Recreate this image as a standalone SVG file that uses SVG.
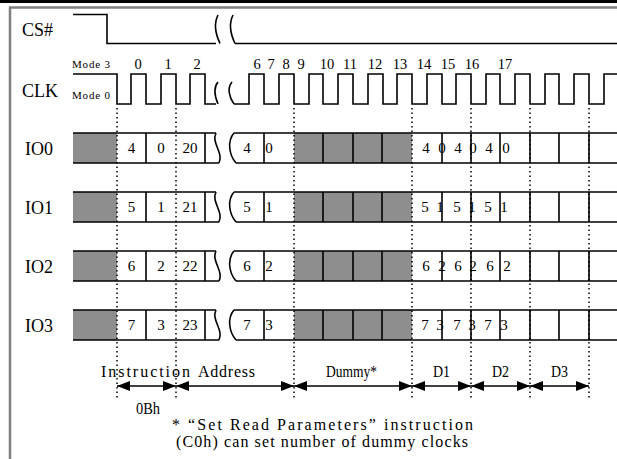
<svg xmlns="http://www.w3.org/2000/svg" width="617" height="459" viewBox="0 0 617 459">
<defs>
<style>
.w{fill:none;stroke:#000;stroke-width:1.6}
.g{fill:#8e8e8e;stroke:none}
.dot{stroke:#000;stroke-width:1.5;stroke-dasharray:1.5 3;fill:none}
.lbl{font-family:"Liberation Serif",serif;font-size:18px;fill:#000}
.num{font-family:"Liberation Serif",serif;font-size:14.5px;fill:#000;text-anchor:middle}
.cell{font-family:"Liberation Serif",serif;font-size:15px;fill:#000;text-anchor:middle}
.mono{font-family:"Liberation Serif",serif;font-size:16px;fill:#000}
.mode{font-family:"Liberation Serif",serif;font-size:11px;fill:#000}
.arr{stroke:#000;stroke-width:1.6;fill:none;marker-start:url(#ah);marker-end:url(#ah)}
</style>
<marker id="ah" viewBox="0 0 13 10" refX="13" refY="5" markerWidth="13" markerHeight="10" markerUnits="userSpaceOnUse" orient="auto-start-reverse">
<path d="M0,0 L13,5 L0,10 Z" fill="#000"/>
</marker>
</defs>
<rect width="617" height="459" fill="#fff"/>
<g id="frame">
<rect x="0" y="0" width="617" height="3" fill="#000"/>
<line x1="9" y1="7.5" x2="617" y2="7.5" stroke="#7f7f7f" stroke-width="2.5"/>
<line x1="10" y1="7" x2="10" y2="459" stroke="#7f7f7f" stroke-width="2.5"/>
</g>
<g id="cs">
<text class="lbl" x="22" y="36">CS#</text>
<path class="w" d="M73,14.5 H107 V43.5 H216"/>
<path class="w" d="M218,15 C213,25 216,35 220,43.5"/>
<path class="w" d="M233,15 C228,25 231,35 235,43.5"/>
<path class="w" d="M235,43.5 H617"/>
</g>
<g id="clk">
<text class="lbl" x="22" y="97">CLK</text>
<text class="mode" x="72" y="68" textLength="38" lengthAdjust="spacing">Mode 3</text>
<text class="mode" x="72" y="99" textLength="38" lengthAdjust="spacing">Mode 0</text>
<path class="w" d="M73,74 H117 V104 H131 V74 H146 V104 H161 V74 H176 V104 H190 V74 H205 V104 H216"/>
<path class="w" d="M218,82 C213,88 215,97 218,104"/>
<path class="w" d="M232,82 C227,88 229,97 234,104"/>
<path class="w" d="M234,104 H249 V74 H264 V104 H279 V74 H294 V104 H309 V74 H323 V104 H338 V74 H353 V104 H368 V74 H383 V104 H397 V74 H412 V104 H427 V74 H442 V104 H456 V74 H471 V104 H486 V74 H500 V104 H515 V74 H530 V104 H545 V74 H559 V104 H574 V74 H589 V104 H604 V74 H617"/>
<text class="num" x="138" y="69">0</text>
<text class="num" x="168" y="69">1</text>
<text class="num" x="197" y="69">2</text>
<text class="num" x="257" y="69">6</text>
<text class="num" x="271" y="69">7</text>
<text class="num" x="286" y="69">8</text>
<text class="num" x="301" y="69">9</text>
<text class="num" x="327" y="69">10</text>
<text class="num" x="350" y="69">11</text>
<text class="num" x="375" y="69">12</text>
<text class="num" x="400" y="69">13</text>
<text class="num" x="424" y="69">14</text>
<text class="num" x="448" y="69">15</text>
<text class="num" x="472" y="69">16</text>
<text class="num" x="505" y="69">17</text>
</g>
<g id="io0">
<text class="lbl" x="25" y="155">IO0</text>
<rect class="g" x="73" y="133" width="44" height="30"/>
<rect class="g" x="294" y="133" width="118" height="30"/>
<path class="w" d="M73,133 H216 M73,163 H219 M234,133 H617 M236,163 H617"/>
<path class="w" d="M216,133 C211,143 224,153 219,163 M234,133 C227,141 229,155 236,163"/>
<path class="w" d="M146,133 V163 M205,133 V163 M264,133 V163 M323,133 V163 M353,133 V163 M382,133 V163 M442,133 V163 M471,133 V163 M500,133 V163 M530,133 V163 M559,133 V163 M589,133 V163"/>
<text class="cell" x="131.5" y="153">4</text><text class="cell" x="161" y="153">0</text><text class="cell" x="190" y="153">20</text>
<text class="cell" x="247" y="153">4</text><text class="cell" x="269" y="153">0</text>
<text class="cell" x="426" y="153">4</text><text class="cell" x="442" y="153">0</text><text class="cell" x="458" y="153">4</text><text class="cell" x="473" y="153">0</text><text class="cell" x="489" y="153">4</text><text class="cell" x="506" y="153">0</text>
</g>
<g id="io1">
<text class="lbl" x="25" y="214">IO1</text>
<rect class="g" x="73" y="192" width="44" height="30"/>
<rect class="g" x="294" y="192" width="118" height="30"/>
<path class="w" d="M73,192 H216 M73,222 H219 M234,192 H617 M236,222 H617"/>
<path class="w" d="M216,192 C211,202 224,212 219,222 M234,192 C227,200 229,214 236,222"/>
<path class="w" d="M146,192 V222 M205,192 V222 M264,192 V222 M323,192 V222 M353,192 V222 M382,192 V222 M442,192 V222 M471,192 V222 M500,192 V222 M530,192 V222 M559,192 V222 M589,192 V222"/>
<text class="cell" x="131.5" y="212">5</text><text class="cell" x="161" y="212">1</text><text class="cell" x="190" y="212">21</text>
<text class="cell" x="247" y="212">5</text><text class="cell" x="269" y="212">1</text>
<text class="cell" x="425" y="212">5</text><text class="cell" x="440" y="212">1</text><text class="cell" x="457" y="212">5</text><text class="cell" x="472" y="212">1</text><text class="cell" x="488" y="212">5</text><text class="cell" x="504" y="212">1</text>
</g>
<g id="io2">
<text class="lbl" x="25" y="273">IO2</text>
<rect class="g" x="73" y="251" width="44" height="30"/>
<rect class="g" x="294" y="251" width="118" height="30"/>
<path class="w" d="M73,251 H216 M73,281 H219 M234,251 H617 M236,281 H617"/>
<path class="w" d="M216,251 C211,261 224,271 219,281 M234,251 C227,259 229,273 236,281"/>
<path class="w" d="M146,251 V281 M205,251 V281 M264,251 V281 M323,251 V281 M353,251 V281 M382,251 V281 M442,251 V281 M471,251 V281 M500,251 V281 M530,251 V281 M559,251 V281 M589,251 V281"/>
<text class="cell" x="131.5" y="271">6</text><text class="cell" x="161" y="271">2</text><text class="cell" x="190" y="271">22</text>
<text class="cell" x="247" y="271">6</text><text class="cell" x="269" y="271">2</text>
<text class="cell" x="426" y="271">6</text><text class="cell" x="442" y="271">2</text><text class="cell" x="458" y="271">6</text><text class="cell" x="473" y="271">2</text><text class="cell" x="490" y="271">6</text><text class="cell" x="507" y="271">2</text>
</g>
<g id="io3">
<text class="lbl" x="25" y="332">IO3</text>
<rect class="g" x="73" y="310" width="44" height="30"/>
<rect class="g" x="294" y="310" width="118" height="30"/>
<path class="w" d="M73,310 H216 M73,340 H219 M234,310 H617 M236,340 H617"/>
<path class="w" d="M216,310 C211,320 224,330 219,340 M234,310 C227,318 229,332 236,340"/>
<path class="w" d="M146,310 V340 M205,310 V340 M264,310 V340 M323,310 V340 M353,310 V340 M382,310 V340 M442,310 V340 M471,310 V340 M500,310 V340 M530,310 V340 M559,310 V340 M589,310 V340"/>
<text class="cell" x="131.5" y="330">7</text><text class="cell" x="161" y="330">3</text><text class="cell" x="190" y="330">23</text>
<text class="cell" x="247" y="330">7</text><text class="cell" x="269" y="330">3</text>
<text class="cell" x="425" y="330">7</text><text class="cell" x="440" y="330">3</text><text class="cell" x="457" y="330">7</text><text class="cell" x="472" y="330">3</text><text class="cell" x="488" y="330">7</text><text class="cell" x="504" y="330">3</text>
</g>
<g id="connectors">
<path class="dot" d="M117,108 V400 M176,108 V400 M294,108 V400 M412,108 V400 M471,108 V400 M530,108 V400 M589,108 V400"/>
<line class="arr" x1="117" y1="386" x2="176" y2="386"/>
<line class="arr" x1="176" y1="386" x2="294" y2="386"/>
<line class="arr" x1="294" y1="386" x2="412" y2="386"/>
<line class="arr" x1="412" y1="386" x2="471" y2="386"/>
<line class="arr" x1="471" y1="386" x2="530" y2="386"/>
<line class="arr" x1="530" y1="386" x2="589" y2="386"/>
</g>
<g id="phase-labels">
<text class="mono" x="101" y="377" textLength="89" lengthAdjust="spacing">Instruction</text>
<text class="mono" x="198" y="377" textLength="57" lengthAdjust="spacing">Address</text>
<text class="mono" x="326" y="377" textLength="51" lengthAdjust="spacingAndGlyphs">Dummy*</text>
<text class="mono" x="433" y="377" textLength="17" lengthAdjust="spacingAndGlyphs">D1</text>
<text class="mono" x="492" y="377" textLength="17" lengthAdjust="spacingAndGlyphs">D2</text>
<text class="mono" x="551" y="377" textLength="17" lengthAdjust="spacingAndGlyphs">D3</text>
<text class="mono" x="136" y="414" textLength="24" lengthAdjust="spacingAndGlyphs">0Bh</text>
<text class="mono" x="172" y="430" textLength="301" lengthAdjust="spacing">* “Set Read Parameters”  instruction</text>
<text class="mono" x="176" y="447" textLength="292" lengthAdjust="spacing">(C0h) can set number of dummy clocks</text>
</g>
</svg>
